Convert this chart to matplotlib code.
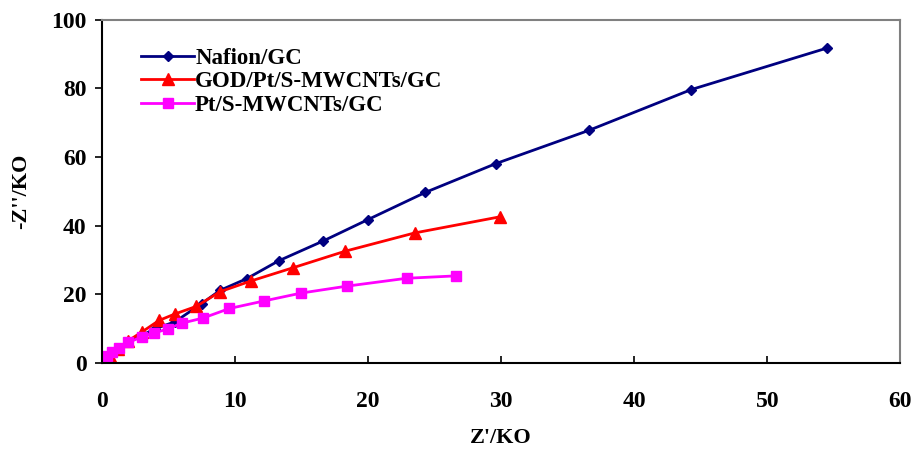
import matplotlib
matplotlib.use('Agg')
import matplotlib.pyplot as plt

# Nyquist data (kOhm)
nafion_x = [0.1, 0.3, 0.6, 1.2, 2.0, 3.0, 4.0, 5.5, 7.5, 8.9, 10.9, 13.3, 16.6, 20.0, 24.3, 29.6, 36.6, 44.3, 54.5]
nafion_y = [0.5, 1.5, 2.5, 4.0, 6.0, 8.0, 10.0, 12.0, 17.3, 21.2, 24.6, 29.8, 35.5, 41.8, 49.7, 58.1, 67.8, 79.7, 91.8]

god_x = [0.3, 0.6, 1.2, 2.0, 3.0, 4.3, 5.5, 7.1, 8.9, 11.2, 14.4, 18.3, 23.5, 29.9]
god_y = [1.0, 2.0, 4.0, 6.5, 9.0, 12.4, 14.3, 16.5, 20.8, 23.9, 27.8, 32.6, 37.9, 42.6]

pt_x = [0.1, 0.2, 0.4, 0.8, 1.3, 2.0, 3.0, 3.9, 5.0, 6.0, 7.6, 9.6, 12.2, 15.0, 18.4, 22.9, 26.6]
pt_y = [0.3, 1.0, 2.0, 3.3, 4.5, 6.0, 7.6, 8.7, 10.0, 11.6, 13.1, 15.9, 18.1, 20.4, 22.4, 24.7, 25.4]

xticks = [0, 10, 20, 30, 40, 50, 60]
yticks = [0, 20, 40, 60, 80, 100]

plt.rcParams['font.family'] = ['Liberation Serif', 'DejaVu Serif']
plt.rcParams['font.weight'] = 'bold'

fig = plt.figure(figsize=(9.16, 4.51), dpi=100)
ax = fig.add_axes([0.111, 0.195, 0.872, 0.761])

ax.plot(nafion_x, nafion_y, color='#000080', marker='D', markersize=5.5, linewidth=2, label='Nafion/GC')
ax.plot(god_x, god_y, color='#FF0000', marker='^', markersize=8, linewidth=2, label='GOD/Pt/S-MWCNTs/GC')
ax.plot(pt_x, pt_y, color='#FF00FF', marker='s', markersize=7, linewidth=2, label='Pt/S-MWCNTs/GC')

ax.set_xlim(0, 60)
ax.set_ylim(0, 100)
ax.set_xticks(xticks)
ax.set_yticks(yticks)
ax.tick_params(axis='x', direction='in', length=5, width=1.2, labelsize=17, pad=20)
ax.tick_params(axis='y', direction='out', length=5, width=1.2, labelsize=17, pad=6)
for lab in ax.get_xticklabels() + ax.get_yticklabels():
    lab.set_fontweight('bold')

ax.spines['left'].set_color('black')
ax.spines['bottom'].set_color('black')
ax.spines['left'].set_linewidth(1.5)
ax.spines['bottom'].set_linewidth(1.5)
ax.spines['top'].set_color('#808080')
ax.spines['right'].set_color('#808080')
ax.spines['top'].set_linewidth(1.5)
ax.spines['right'].set_linewidth(1.5)

ax.set_xlabel("Z'/KO", fontsize=16, fontweight='bold', labelpad=12)
ax.set_ylabel("-Z''/KO", fontsize=16, fontweight='bold', labelpad=14)

ax.legend(loc='upper left', bbox_to_anchor=(0.038, 0.945), frameon=False, fontsize=16.5,
          handlelength=2.3, handletextpad=0.05, labelspacing=0.1, borderaxespad=0)

fig.savefig('out.png', dpi=100)
